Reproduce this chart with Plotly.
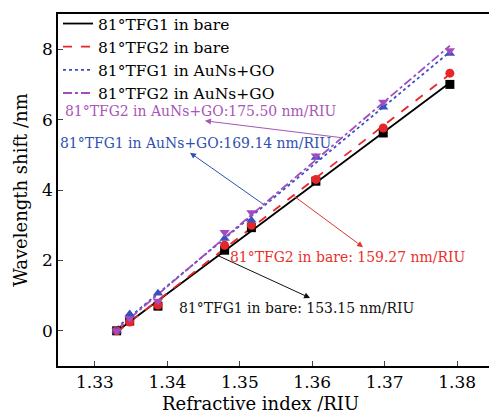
import numpy as np
import plotly.graph_objects as go

# ---- data ----
ri = [1.3330, 1.3348, 1.3387, 1.3479, 1.3516, 1.3605, 1.3698, 1.3790]
tfg1_bare = [0.0, 0.28, 0.70, 2.29, 2.93, 4.25, 5.62, 7.00]
tfg2_bare = [0.0, 0.25, 0.73, 2.43, 3.00, 4.30, 5.76, 7.32]
tfg1_go = [0.0, 0.48, 1.07, 2.62, 3.14, 4.92, 6.35, 7.88]
tfg2_go = [0.0, 0.35, 0.85, 2.80, 3.36, 4.97, 6.50, 7.96]

names = ["81°TFG1 in bare", "81°TFG2 in bare", "81°TFG1 in AuNs+GO", "81°TFG2 in AuNs+GO"]
series = [tfg1_bare, tfg2_bare, tfg1_go, tfg2_go]
colors = ["#000000", "#e8262a", "#3a4fc0", "#a24cc0"]
dashes = ["solid", "dash", "dot", "dashdot"]
symbols = ["square", "circle", "triangle-up", "triangle-down"]

FONT = "DejaVu Serif"
CFONT = "DejaVu Serif Condensed, DejaVu Serif"

fig = go.Figure()
xa = np.array(ri)
for name, ys, c, d in zip(names, series, colors, dashes):
    k, b = np.polyfit(xa, np.array(ys), 1)
    xf = np.array([xa[0], xa[-1]])
    fig.add_trace(go.Scatter(x=xf, y=k * xf + b, mode="lines", name=name,
                             line=dict(color=c, dash=d, width=1.8)))
for name, ys, c, s in zip(names, series, colors, symbols):
    fig.add_trace(go.Scatter(x=ri, y=ys, mode="markers", showlegend=False,
                             marker=dict(color=c, symbol=s, size=9)))

# annotations: (text, color, x, y)
labels = [
    ("81°TFG2 in AuNs+GO:175.50 nm/RIU", "#a855b5", 1.32558, 6.247),
    ("81°TFG1 in AuNs+GO:169.14 nm/RIU", "#3050b0", 1.32495, 5.343),
    ("81°TFG2 in bare: 159.27 nm/RIU", "#e8302a", 1.34837, 2.092),
    ("81°TFG1 in bare: 153.15 nm/RIU", "#111111", 1.34133, 0.650),
]
for t, c, x, y in labels:
    fig.add_annotation(x=x, y=y, text=t, showarrow=False, xanchor="left", yanchor="middle",
                       font=dict(family=CFONT, size=15.5, color=c))

# arrows: (head x, head y, tail x, tail y, color)
arrows = [
    (1.34519, 5.965, 1.36412, 5.484, "#a855b5"),
    (1.34312, 5.060, 1.35348, 3.562, "#3050b0"),
    (1.36702, 2.375, 1.35735, 3.845, "#d83a30"),
    (1.35970, 0.933, 1.34685, 2.148, "#111111"),
]
for hx, hy, tx, ty, c in arrows:
    fig.add_annotation(x=hx, y=hy, ax=tx, ay=ty, axref="x", ayref="y", text="",
                       showarrow=True, arrowhead=2, arrowsize=1.2, arrowwidth=1,
                       arrowcolor=c, standoff=0, startstandoff=0)

# x axis title placed as paper annotation
fig.add_annotation(x=0.469, y=-0.106, xref="paper", yref="paper", text="Refractive index /RIU",
                   showarrow=False, xanchor="center", yanchor="middle",
                   font=dict(family=FONT, size=18, color="black"))

fig.update_layout(
    width=489, height=415,
    margin=dict(l=58, r=0, t=14, b=49),
    paper_bgcolor="white", plot_bgcolor="white",
    font=dict(family=FONT, size=17, color="black"),
    showlegend=True,
    legend=dict(x=0, y=1.02, xanchor="left", yanchor="top", bgcolor="rgba(0,0,0,0)",
                font=dict(family=FONT, size=15.5), tracegroupgap=0, itemwidth=30),
    xaxis=dict(range=[1.3249, 1.3844], tickvals=[1.33, 1.34, 1.35, 1.36, 1.37, 1.38],
               ticktext=["1.33", "1.34", "1.35", "1.36", "1.37", "1.38"],
               ticks="inside", ticklen=5, showgrid=False, zeroline=False,
               showline=True, linecolor="black", linewidth=1.5, mirror=True),
    yaxis=dict(range=[-1, 9], tickvals=[0, 2, 4, 6, 8],
               ticks="inside", ticklen=5, showgrid=False, zeroline=False,
               showline=True, linecolor="black", linewidth=1.5,
               title=dict(text="Wavelength shift /nm", font=dict(size=18), standoff=10)),
)

fig.write_html("out.html")
